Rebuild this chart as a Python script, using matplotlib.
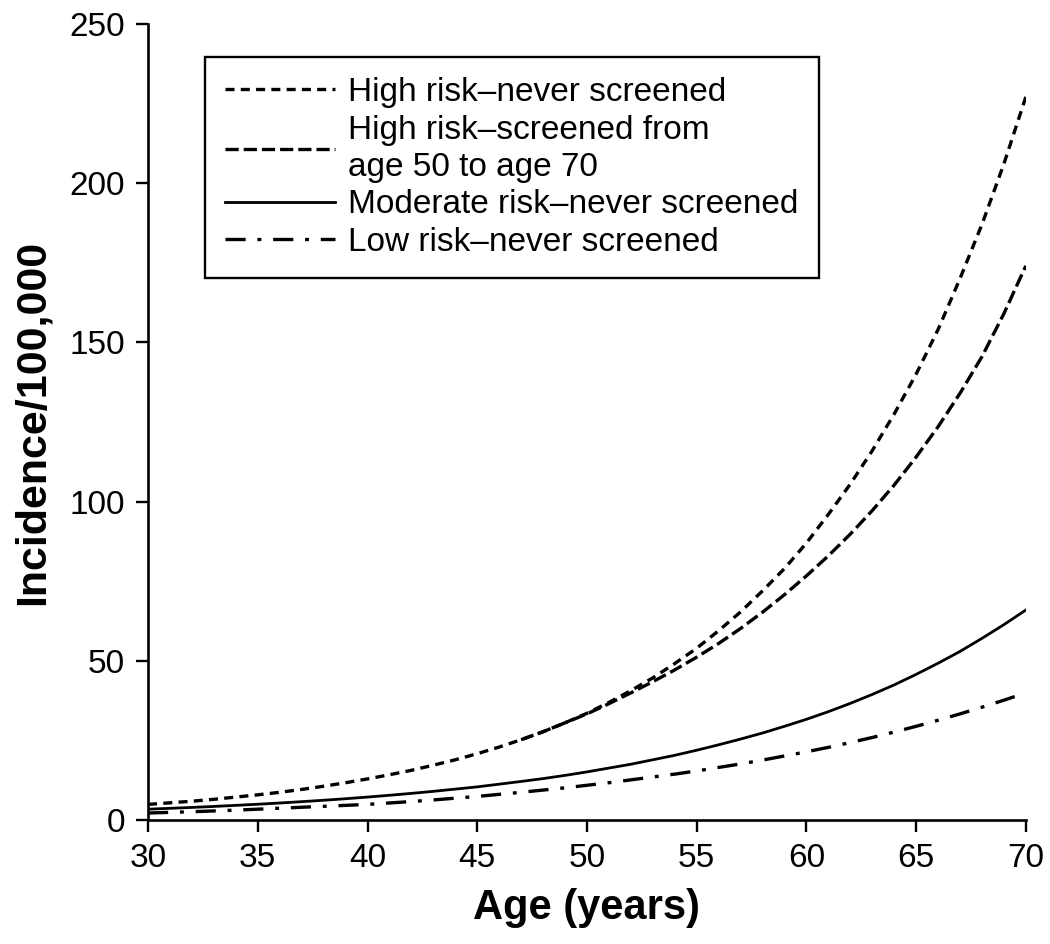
import matplotlib
matplotlib.use('Agg')
import matplotlib.pyplot as plt

plt.rcParams['font.family'] = ['Liberation Sans', 'DejaVu Sans']
plt.rcParams['lines.scale_dashes'] = False

ages = list(range(30, 71))
ages_screened = list(range(47, 71))

high_never = [5.0, 5.5, 6.0, 6.6, 7.3, 8.0, 8.8, 9.7, 10.7, 11.8,
              13.0, 14.3, 15.7, 17.3, 19.0, 20.9, 23.0, 25.3, 27.8, 30.6,
              33.6, 37.0, 40.7, 44.7, 49.2, 54.0, 59.5, 65.4, 72.0, 79.0,
              87.0, 96.0, 105.5, 116.0, 127.5, 140.0, 154.0, 170.0, 187.0, 206.0,
              227.0]
high_screened = [25.3, 27.8, 30.6, 33.4, 36.6, 40.0, 43.5, 47.2, 51.2, 55.5,
                 60.2, 65.3, 70.8, 76.7, 83.0, 89.8, 97.2, 105.2, 114.0, 123.5,
                 134.0, 145.5, 159.0, 174.0]
moderate_never = [3.5, 3.77, 4.05, 4.36, 4.70, 5.05, 5.44, 5.86, 6.30, 6.78,
                  7.30, 7.86, 8.46, 9.10, 9.80, 10.5, 11.35, 12.2, 13.1, 14.1,
                  15.2, 16.4, 17.6, 19.0, 20.4, 22.0, 23.7, 25.5, 27.4, 29.5,
                  31.7, 34.1, 36.7, 39.5, 42.5, 45.8, 49.3, 53.0, 57.1, 61.4,
                  66.0]
low_never = [2.3, 2.5, 2.7, 2.95, 3.2, 3.5, 3.8, 4.1, 4.4, 4.7,
             5.0, 5.45, 5.9, 6.4, 6.95, 7.5, 8.15, 8.8, 9.5, 10.2,
             11.0, 11.8, 12.7, 13.6, 14.5, 15.5, 16.6, 17.7, 18.9, 20.2,
             21.5, 22.9, 24.4, 26.0, 27.7, 29.5, 31.4, 33.4, 35.5, 37.7,
             40.0]

labels = ['High risk\u2013never screened',
          'High risk\u2013screened from\nage 50 to age 70',
          'Moderate risk\u2013never screened',
          'Low risk\u2013never screened']

fig = plt.figure(figsize=(10.5, 9.44), dpi=100)
ax = fig.add_axes([0.141, 0.131, 0.836, 0.844])

ax.plot(ages, high_never, color='black', lw=2.4, dashes=(6.5, 4.5), label=labels[0])
ax.plot(ages_screened, high_screened, color='black', lw=2.4, dashes=(9.5, 3.6), label=labels[1])
ax.plot(ages, moderate_never, color='black', lw=2.0, label=labels[2])
ax.plot(ages, low_never, color='black', lw=2.4, dashes=(14.5, 8.5, 2.8, 8.5), label=labels[3])

ax.set_xlim(30, 70)
ax.set_ylim(0, 250)
ax.set_xticks(range(30, 71, 5))
ax.set_yticks(range(0, 251, 50))

for s in ['top', 'right']:
    ax.spines[s].set_visible(False)
for s in ['left', 'bottom']:
    ax.spines[s].set_linewidth(1.9)
ax.tick_params(direction='out', length=8.5, width=1.7, labelsize=24, pad=8)

ax.set_xlabel('Age (years)', fontsize=30, fontweight='bold', labelpad=10)
ax.set_ylabel('Incidence/100,000', fontsize=31, fontweight='bold', labelpad=12)

leg = ax.legend(loc='upper left', bbox_to_anchor=(0.065, 0.958), borderaxespad=0,
                fontsize=24, frameon=True, fancybox=False, handlelength=3.3,
                handletextpad=0.4, labelspacing=0.2, borderpad=0.6)
leg.get_frame().set_edgecolor('black')
leg.get_frame().set_linewidth(1.7)
leg.get_frame().set_alpha(1)
for t in leg.get_texts():
    t.set_linespacing(1.25)

fig.savefig('out.png', dpi=100)
